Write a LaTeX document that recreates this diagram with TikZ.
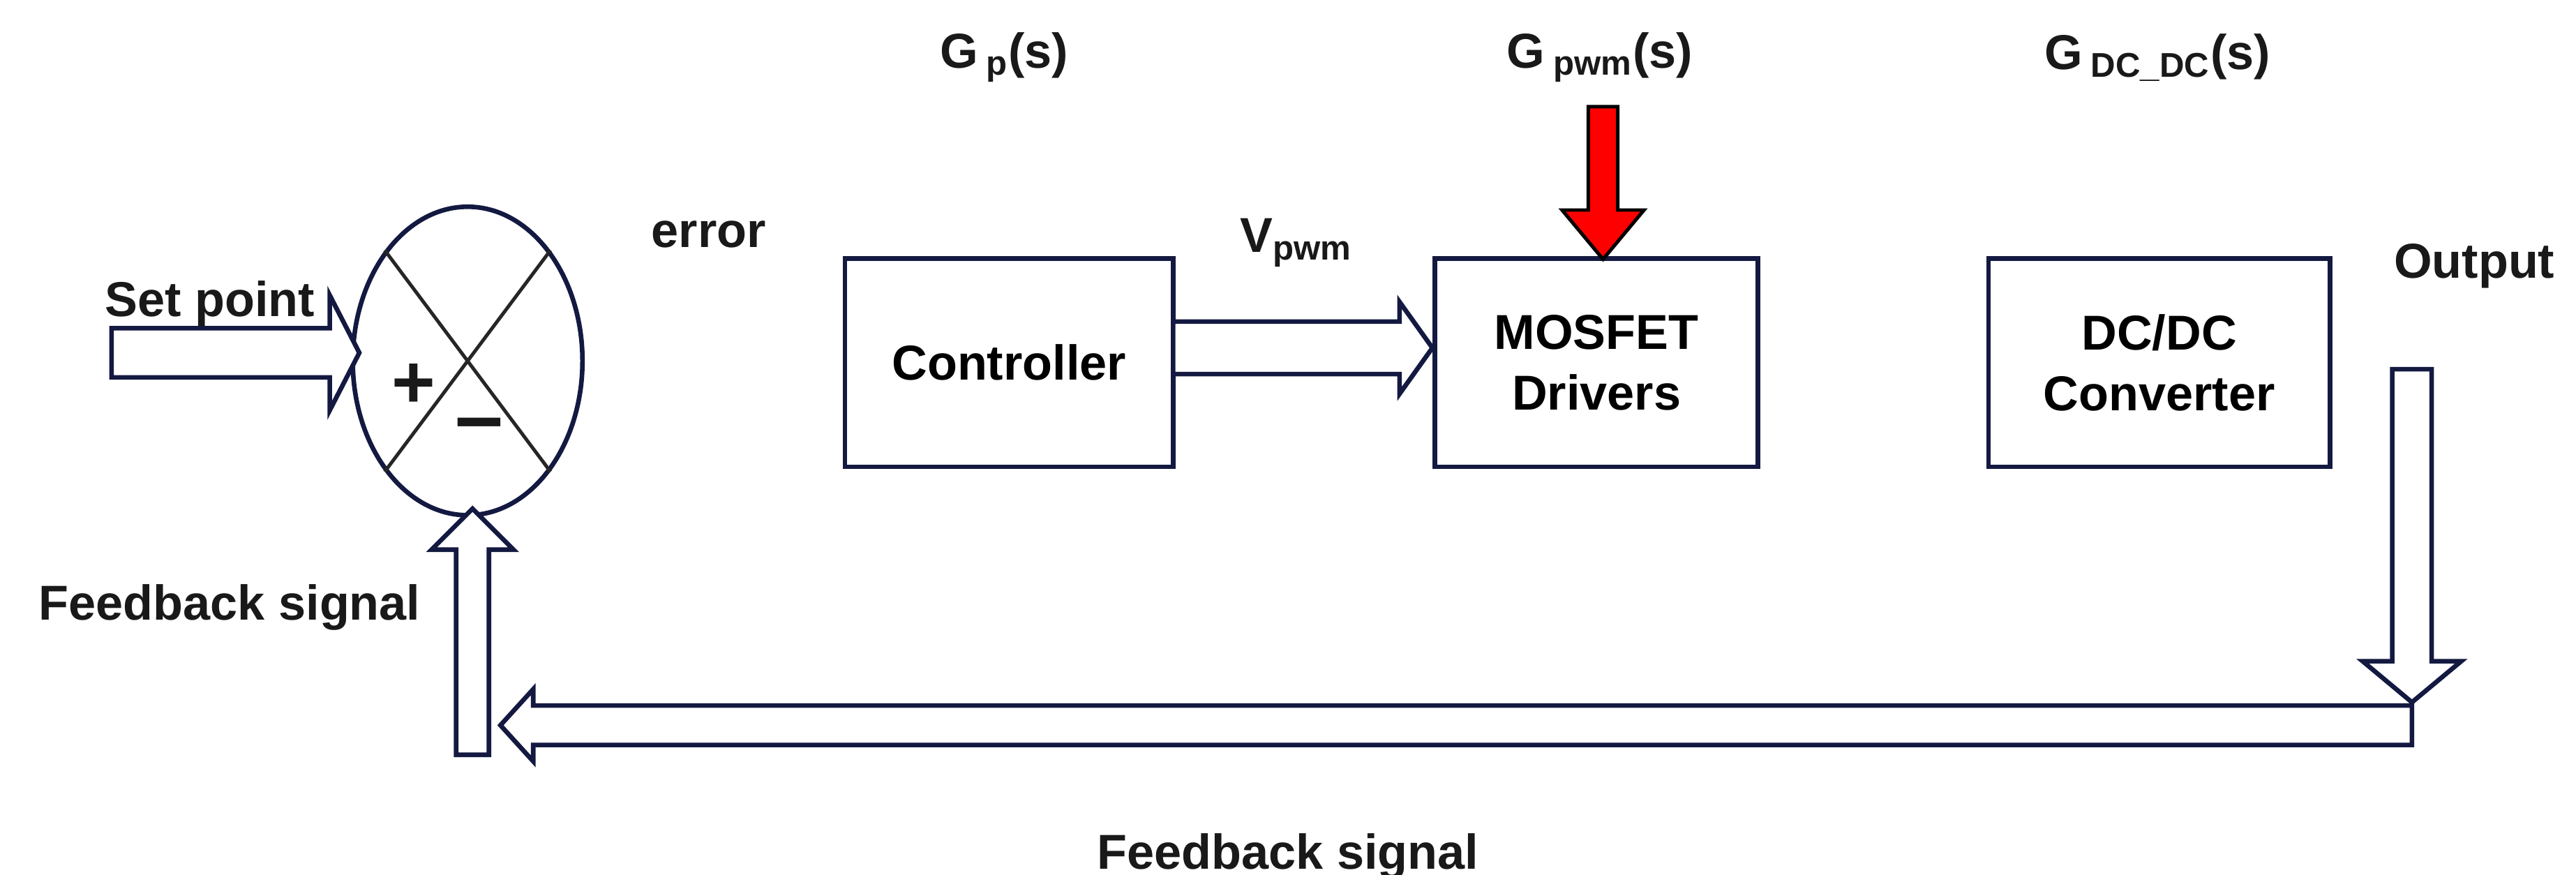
\documentclass[tikz,border=0pt]{standalone}
\usepackage{fontspec}
\setmainfont{Liberation Sans}
\usetikzlibrary{shapes.geometric}
\definecolor{navy}{HTML}{131940}
\newcommand\fatarr[8]{\draw[#1,shift={#2},rotate=#3] (0,-#5)--(#4-#7,-#5)--(#4-#7,-#6)--(#4,0)--(#4-#7,#6)--(#4-#7,#5)--(0,#5)--cycle;}
\begin{document}
\begin{tikzpicture}[x=0.02cm,y=-0.02cm,
  box/.style={draw=navy,line width=1.6pt,minimum width=200*0.02cm,minimum height=127*0.02cm,align=center,font=\bfseries\fontsize{17}{21}\selectfont},
  lbl/.style={font=\bfseries\fontsize{17}{20}\selectfont,text=black!90},
  fa/.style={draw=navy,line width=1.6pt,fill=white,line join=miter},
  ra/.style={draw=black,line width=1.2pt,fill=red,line join=miter}]
\useasboundingbox (0,0) rectangle (1570,533);
% sum junction
\node[ellipse,draw=navy,line width=1.6pt,minimum width=140*0.02cm,minimum height=188*0.02cm] (sum) at (285,220) {};
\draw[line width=1.2pt,black!85] (sum.north west)--(sum.south east) (sum.north east)--(sum.south west);
\node[lbl] (plus) at (252,235) {\fontsize{26}{26}\selectfont +};
\node[lbl] (minus) at (292,263) {\fontsize{30}{30}\selectfont \textendash};
% boxes
\node[box] (ctrl) at (615,221) {Controller};
\node[box,minimum width=197*0.02cm] (mos) at (973,221) {MOSFET\\Drivers};
\node[box,minimum width=208*0.02cm] (dc) at (1316,221) {DC/DC\\Converter};
% labels
\node[lbl] (sp) at (128,185) {Set point};
\node[lbl] (err) at (432,143) {error};
\node[lbl] (vp) at (790,148) {V\textsubscript{pwm}};
\node[lbl] (out) at (1508,162) {Output};
\node[lbl] (fb1) at (140,370) {Feedback signal};
\node[lbl] (fb2) at (785,522) {Feedback signal};
\node[lbl] (gp) at (612,35) {G\,\textsubscript{p}(s)};
\node[lbl] (gpwm) at (975,35) {G\,\textsubscript{pwm}(s)};
\node[lbl] (gdc) at (1315,35) {G\,\textsubscript{DC\_DC}(s)};
% arrows
\fatarr{fa}{(68,215)}{0}{151}{15}{35}{18}
\fatarr{fa}{(355,212)}{0}{157}{16}{28}{20}
\fatarr{fa}{(715,212)}{0}{158}{16}{28}{20}
\fatarr{fa}{(1072,212)}{0}{139}{16}{28}{20}
\fatarr{fa}{(1470,442)}{180}{1165}{12}{22}{20}
\draw[fa] (1470,430)--(1490,430)--(1490,455)--(1468,455)--cycle;
\fatarr{fa}{(1470,225)}{-90}{203}{12}{30}{25}
\fatarr{fa}{(1420,211)}{0}{135}{14}{28}{22}
\fatarr{fa}{(288,460)}{90}{150}{10}{25}{25}
\fatarr{ra}{(617,65)}{-90}{93}{9}{25}{30}
\fatarr{ra}{(977,65)}{-90}{93}{9}{25}{30}
\fatarr{ra}{(1322,65)}{-90}{93}{9}{25}{30}
\end{tikzpicture}
\end{document}
